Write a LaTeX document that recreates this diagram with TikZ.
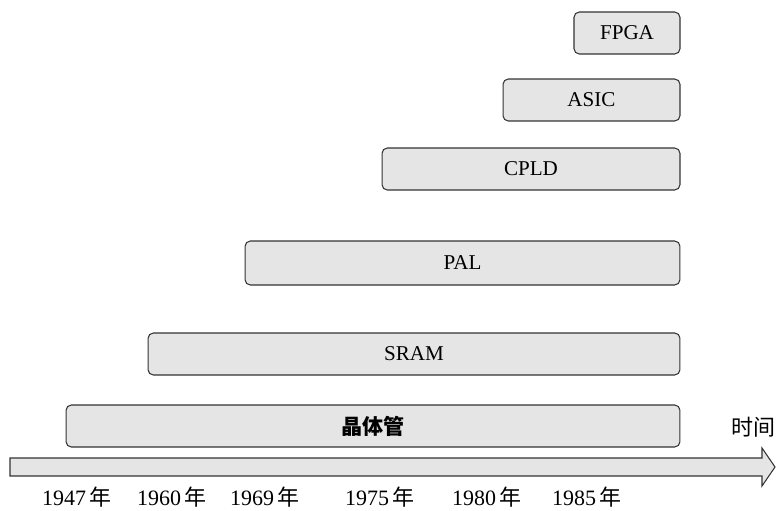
\documentclass[tikz,border=0pt]{standalone}
\usepackage{fontspec}
\setmainfont{Liberation Serif}
\newfontfamily\cjk{Noto Sans CJK SC}
\usetikzlibrary{positioning}

\begin{document}
\begin{tikzpicture}[
    x=0.02cm, y=-0.02cm,
    bar/.style={draw=black!80, fill=black!10, rounded corners=3pt, line width=0.6pt, minimum height=0.84cm, inner sep=0pt, font=\fontsize{12}{14}\selectfont},
    year/.style={font=\fontsize{12.5}{14}\selectfont, inner sep=1pt}
]
\useasboundingbox (0,0) rectangle (776,510);
% technology bars
\node[bar, minimum width=2.12cm] (fpga) at (627,33) {FPGA};
\node[bar, minimum width=3.54cm] (asic) at (591.5,100) {ASIC};
\node[bar, minimum width=5.96cm] (cpld) at (531,169) {CPLD};
\node[bar, minimum width=8.7cm, minimum height=0.88cm] (pal) at (462.5,263) {PAL};
\node[bar, minimum width=10.64cm] (sram) at (414,354) {SRAM};
\node[bar, minimum width=12.28cm] (trans) at (373,426) {\cjk\bfseries 晶体管};

% time axis
\draw[draw=black!80, fill=black!10, line width=0.6pt]
    (10,458) -- (762,458) -- (762,448) -- (775,467) -- (762,486) -- (762,476) -- (10,476) -- cycle;
\node[year] (time) at (753,427) {\cjk 时间};

\node[year] (y47) at (77,497) {1947\,{\cjk 年}};
\node[year] (y60) at (172,497) {1960\,{\cjk 年}};
\node[year] (y69) at (265,497) {1969\,{\cjk 年}};
\node[year] (y75) at (380,497) {1975\,{\cjk 年}};
\node[year] (y80) at (487,497) {1980\,{\cjk 年}};
\node[year] (y85) at (587,497) {1985\,{\cjk 年}};
\end{tikzpicture}
\end{document}
